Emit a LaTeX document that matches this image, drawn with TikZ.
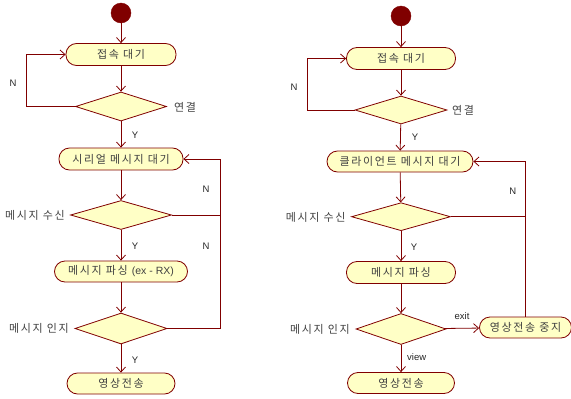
\documentclass[tikz,border=0pt]{standalone}
\usepackage{fontspec}
\setmainfont{Noto Sans CJK KR}
\newfontfamily\lblfont{Liberation Sans}
\newfontfamily\krfont[LetterSpace=15]{Noto Sans CJK KR}
\usetikzlibrary{shapes.geometric,arrows.meta,calc}
\definecolor{edgec}{HTML}{800000}
\definecolor{fillc}{HTML}{FFFFC6}
\definecolor{txtc}{HTML}{404040}
\tikzset{
  act/.style={draw=edgec, fill=fillc, line width=0.8pt, rectangle, rounded corners=10.5pt,
    minimum height=22pt, inner sep=0pt, font=\krfont\fontsize{11}{13}\selectfont, text=txtc},
  dec/.style={draw=edgec, fill=fillc, line width=0.8pt, diamond, inner sep=0pt},
  startnode/.style={circle, fill=edgec, draw=edgec, minimum size=20pt, inner sep=0pt},
  conn/.style={draw=edgec, line width=0.8pt},
  arr/.style={conn, -{Straight Barb[length=5pt,width=9pt,line width=0.8pt]}},
  yn/.style={font=\lblfont\fontsize{9.5}{11}\selectfont, text=black!85, inner sep=0pt},
  kl/.style={font=\krfont\fontsize{11}{13}\selectfont, text=txtc, inner sep=0pt},
}
\begin{document}
\begin{tikzpicture}[x=1pt,y=-1pt]
\useasboundingbox (0,0) rectangle (571,399);
% ---------- left ----------
\node[startnode] (s1) at (121,13) {};
\node[act, minimum width=110pt] (a1) at (121,54.5) {접속 대기};
\node[dec, minimum width=91pt, minimum height=29pt] (d1) at (121,106.5) {};
\node[act, minimum width=124pt] (a2) at (121,159) {시리얼 메시지 대기};
\node[dec, minimum width=101pt, minimum height=29pt] (d2) at (121,215) {};
\node[act, minimum width=133pt, minimum height=21pt] (a3) at (121,271.5) {메시지 파싱 {\lblfont\fontsize{10.5}{12}\selectfont(ex - RX)}};
\node[dec, minimum width=92pt, minimum height=31pt] (d3) at (121,328.5) {};
\node[act, minimum width=108pt, minimum height=21pt] (a4) at (121,383.5) {영상전송};
\coordinate (l1) at (26,0);
\coordinate (r1) at (220,0);

\draw[arr] (s1) -- (a1);
\draw[arr] (a1) -- (d1);
\draw[arr] (d1.west) -- (d1.west -| l1) |- (a1.west);
\draw[arr] (d1) -- (a2);
\draw[arr] (a2) -- (d2);
\draw[conn] (d2.east) -- (d2.east -| r1);
\draw[arr] (d3.east) -- (d3.east -| r1) |- (a2.east);
\draw[arr] (d2) -- (a3);
\draw[arr] (a3) -- (d3);
\draw[arr] (d3) -- (a4);

\node[yn] (n1) at (13,83) {N};
\node[yn] (y1) at (135,135) {Y};
\node[yn] (n2) at (206,189) {N};
\node[yn] (y2) at (135,246) {Y};
\node[yn] (n3) at (206,246) {N};
\node[yn] (y3) at (135,360) {Y};
\node[kl, anchor=west] (k1) at (174,107) {연결};
\node[kl, anchor=east] (k2) at (65,215) {메시지 수신};
\node[kl, anchor=east] (k3) at (69,328) {메시지 인지};

% ---------- right ----------
\node[startnode] (s2) at (401,16) {};
\node[act, minimum width=109pt] (b1) at (401,58.5) {접속 대기};
\node[dec, minimum width=92pt, minimum height=28pt] (e1) at (401,110) {};
\node[act, minimum width=146pt, minimum height=21pt] (b2) at (400,161.5) {클라이언트 메시지 대기};
\node[dec, minimum width=99pt, minimum height=28pt] (e2) at (401,216.7) {};
\node[act, minimum width=109pt] (b3) at (401,272.5) {메시지 파싱};
\node[dec, minimum width=90pt, minimum height=31pt] (e3) at (401,329) {};
\node[act, minimum width=107pt, minimum height=21pt] (b4) at (401,383) {영상전송};
\node[act, minimum width=92pt, minimum height=21pt] (b5) at (525.5,327.5) {영상전송 중지};
\coordinate (l2) at (307.7,0);

\draw[arr] (s2) -- (b1);
\draw[arr] (b1) -- (e1);
\draw[arr] (e1.west) -- (e1.west -| l2) |- (b1.west);
\draw[arr] (e1) -- (b2);
\draw[arr] (b2) -- (e2);
\draw[conn] (e2.east) -- (e2.east -| b5.north);
\draw[arr] (b5.north) |- (b2.east);
\draw[arr] (e2) -- (b3);
\draw[arr] (b3) -- (e3);
\draw[arr] (e3) -- (b5);
\draw[arr] (e3) -- (b4);

\node[yn] (n4) at (294,87) {N};
\node[yn] (y4) at (415,137) {Y};
\node[yn] (n5) at (512.7,191.7) {N};
\node[yn] (y5) at (414,247) {Y};
\node[yn] (ex) at (462,315.7) {exit};
\node[yn] (vw) at (416.7,356.7) {view};
\node[kl, anchor=west] (k4) at (452,110) {연결};
\node[kl, anchor=east] (k5) at (345.7,217) {메시지 수신};
\node[kl, anchor=east] (k6) at (350,329) {메시지 인지};
\end{tikzpicture}
\end{document}
